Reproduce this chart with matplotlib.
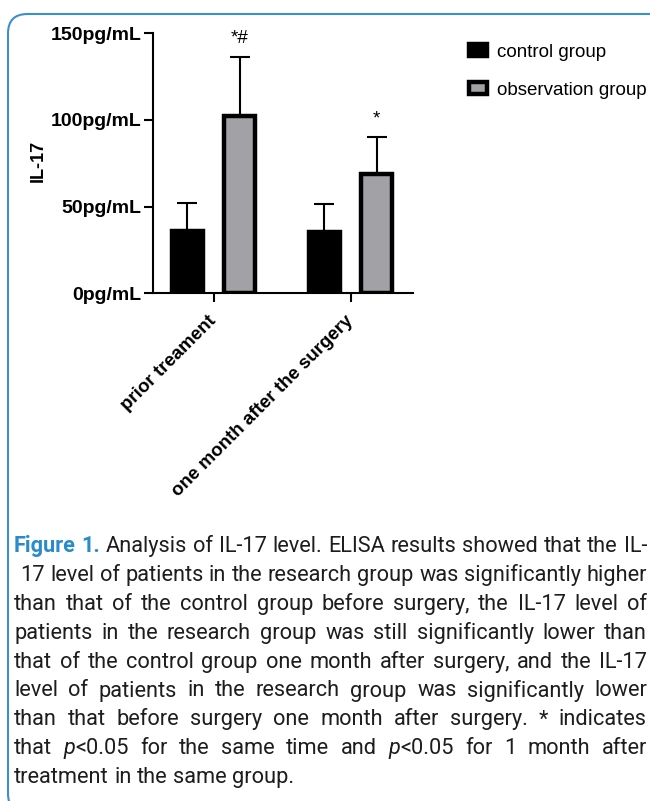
import numpy as np
import matplotlib
matplotlib.use("Agg")
import matplotlib.pyplot as plt
from matplotlib.patches import FancyBboxPatch

# data
groups = ["prior treament", "one month after the surgery"]
control_mean = [36.0, 35.2]
control_sd = [16.0, 16.3]
obs_mean = [102.5, 68.5]
obs_sd = [34.0, 21.5]
obs_marks = ["*#", "*"]
series_names = ["control group", "observation group"]
yticks = [0, 50, 100, 150]
ytick_labels = ["0pg/mL", "50pg/mL", "100pg/mL", "150pg/mL"]

caption_lines = [
    "Figure 1. Analysis of IL-17 level. ELISA results showed that the IL-",
    "17 level of patients in the research group was significantly higher",
    "than that of the control group before surgery, the IL-17 level of",
    "patients in the research group was still significantly lower than",
    "that of the control group one month after surgery, and the IL-17",
    "level of patients in the research group was significantly lower",
    "than that before surgery one month after surgery. * indicates",
    "that p<0.05 for the same time and p<0.05 for 1 month after",
    "treatment in the same group.",
]

W, H = 650, 801
fig = plt.figure(figsize=(W / 100, H / 100), dpi=100)
fig.patch.set_facecolor("white")

# rounded blue frame
frame = FancyBboxPatch((8 / W, -12 / H), 700 / W, (H - 14 + 12) / H,
                       boxstyle="round,pad=0,rounding_size=0.03",
                       transform=fig.transFigure, fill=False,
                       edgecolor="#3b8ed0", lw=1.5, mutation_aspect=W / H)
fig.add_artist(frame)

ax = fig.add_axes([153 / W, 1 - 293 / H, 260 / W, 259.5 / H])

x = np.arange(len(groups))
off = 0.19
bw = 0.223
lw_bar = 3.2

bars_c = ax.bar(x - off, control_mean, width=bw, color="black", edgecolor="black",
                lw=lw_bar, zorder=3, label=series_names[0])
bars_o = ax.bar(x + off, obs_mean, width=bw, color="#a2a2a6", edgecolor="black",
                lw=lw_bar, zorder=3, label=series_names[1])
ax.errorbar(x - off, control_mean, yerr=[np.zeros(len(x)), control_sd], fmt="none",
            ecolor="black", elinewidth=1.5, capsize=7, capthick=1.5, zorder=2)
ax.errorbar(x + off, obs_mean, yerr=[np.zeros(len(x)), obs_sd], fmt="none",
            ecolor="black", elinewidth=1.5, capsize=7, capthick=1.5, zorder=2)

for xi, m, s, t in zip(x, obs_mean, obs_sd, obs_marks):
    ax.text(xi + off, m + s + 8, t, ha="center", va="baseline",
            fontsize=13.5, family="Liberation Sans")

ax.set_xlim(-0.4416, 1.456)
ax.set_ylim(0, 150)
ax.set_yticks(yticks)
ax.set_yticklabels(ytick_labels, fontsize=14, fontweight="bold", family="Liberation Sans")
ax.set_xticks(x)
ax.set_xticklabels(groups, rotation=45, ha="right", va="center", rotation_mode="anchor",
                   fontsize=13.5, fontweight="bold", family="Liberation Sans")
ax.tick_params(axis="both", width=1.5, length=6.5, pad=2)
ax.tick_params(axis="x", pad=12)
for side in ["top", "right"]:
    ax.spines[side].set_visible(False)
for side in ["left", "bottom"]:
    ax.spines[side].set_linewidth(1.5)
ax.set_ylabel("IL-17", fontsize=13, fontweight="bold", family="Liberation Sans")
ax.yaxis.set_label_coords(-0.41, 0.51)

fig.legend(handles=[bars_c, bars_o], labels=series_names, loc="upper left",
           bbox_to_anchor=(452 / W, 1 - 27 / H), frameon=False,
           prop={"family": "Liberation Sans", "size": 13.5},
           handlelength=0.95, handleheight=0.6, handletextpad=0.55, labelspacing=1.12)

# justified caption
cap_font = "Roboto"
blue = "#2a8bcb"
ink = "#1f1c1d"
renderer = fig.canvas.get_renderer()
left, right = 14, 647
base0, step = 552, 28.9

# size the caption font so the densest line just fits the column
probe = fig.text(0, 0, caption_lines[1], family=cap_font, fontsize=13)
nat = probe.get_window_extent(renderer).width
probe.remove()
cap_size = 13 * (right - left - 8) / nat


def seg_style(seg):
    kw = dict(family=cap_font, fontsize=cap_size, color=ink, va="baseline", ha="left")
    if seg[1] == "head":
        kw.update(color=blue, fontweight="semibold")
    elif seg[1] == "it":
        kw.update(style="italic")
    return kw


def split_word(w, li, wi):
    if li == 0 and wi < 2:
        return [(w, "head")]
    if w.startswith("p<"):
        return [("p", "it"), (w[1:], "rm")]
    return [(w, "rm")]


probe1 = fig.text(0, 0, "x x", family=cap_font, fontsize=cap_size)
probe2 = fig.text(0, 0, "xx", family=cap_font, fontsize=cap_size)
space_w = probe1.get_window_extent(renderer).width - probe2.get_window_extent(renderer).width
probe1.remove()
probe2.remove()

for li, line in enumerate(caption_lines):
    y = 1 - (base0 + li * step) / H
    words = line.split()
    items = []
    for wi, w in enumerate(words):
        parts = []
        for seg in split_word(w, li, wi):
            t = fig.text(0, y, seg[0], **seg_style(seg))
            parts.append((t, t.get_window_extent(renderer).width))
        items.append(parts)
    widths = [sum(p[1] for p in parts) for parts in items]
    x0 = left + (6 if li == 1 else 0)
    if li < len(caption_lines) - 1:
        gap = max((right - x0 - sum(widths)) / (len(words) - 1), space_w * 0.8)
    else:
        gap = space_w
    xp = x0
    for parts, wd in zip(items, widths):
        xs = xp
        for t, tw in parts:
            t.set_x(xs / W)
            xs += tw
        xp += wd + gap

fig.savefig("out.png", dpi=100)
